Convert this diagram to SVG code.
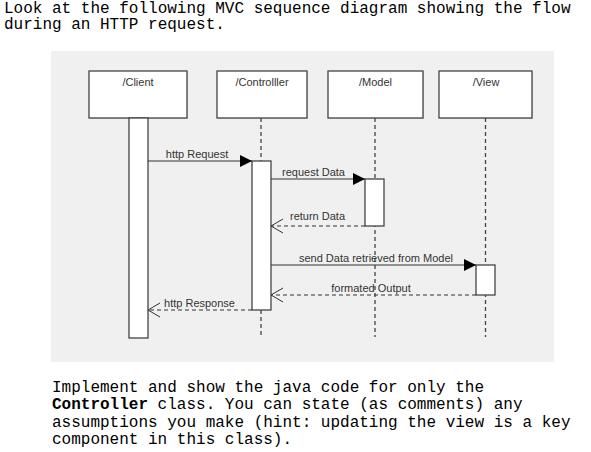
<svg xmlns="http://www.w3.org/2000/svg" width="591" height="452" viewBox="0 0 591 452">
  <defs>
    <marker id="filled" viewBox="0 0 12 12" refX="12" refY="6" markerWidth="12" markerHeight="12" markerUnits="userSpaceOnUse" orient="auto">
      <path d="M0,0 L12,6 L0,12 Z" fill="#000"/>
    </marker>
    <marker id="open" viewBox="0 0 14 16" refX="13" refY="8" markerWidth="14" markerHeight="16" markerUnits="userSpaceOnUse" orient="auto">
      <path d="M1,1 L13,8 L1,15" fill="none" stroke="#333" stroke-width="1"/>
    </marker>
  </defs>
  <style>
    .q { font-family: "Liberation Mono", "Courier New", monospace; font-size: 16px; fill: #000; }
    .bg { fill: #f0f0f0; }
    .head { fill: #fff; stroke: #444; stroke-width: 1.3; }
    .shadow { fill: #d4d4d4; }
    .act { fill: #fff; stroke: #444; stroke-width: 1.3; }
    .life { stroke: #444; stroke-width: 1.3; stroke-dasharray: 4 3; fill: none; }
    .msg { stroke: #333; stroke-width: 1; fill: none; }
    .ret { stroke: #333; stroke-width: 1; fill: none; stroke-dasharray: 4 3; }
    .lbl { font-family: "Liberation Sans", Arial, sans-serif; font-size: 11px; fill: #333; text-anchor: middle; }
  </style>

  <text class="q" x="4" y="12.5">Look at the following MVC sequence diagram showing the flow</text>
  <text class="q" x="4" y="29">during an HTTP request.</text>

  <rect class="bg" x="51" y="51" width="503" height="311"/>

  <g id="client">
    <rect class="shadow" x="90" y="72" width="98" height="47"/>
    <rect class="head" x="89" y="71" width="98" height="47"/>
    <text class="lbl" x="138" y="85.5">/Client</text>
    <rect class="act" x="129" y="118" width="19" height="220"/>
  </g>

  <g id="controller">
    <rect class="shadow" x="218" y="72" width="90" height="47"/>
    <rect class="head" x="217" y="71" width="90" height="47"/>
    <text class="lbl" x="262" y="85.5">/Controlller</text>
    <line class="life" x1="261" y1="118" x2="261" y2="161"/>
    <line class="life" x1="261" y1="310" x2="261" y2="337"/>
    <rect class="act" x="252" y="161" width="19" height="149"/>
  </g>

  <g id="model">
    <rect class="shadow" x="329" y="72" width="95" height="47"/>
    <rect class="head" x="328" y="71" width="95" height="47"/>
    <text class="lbl" x="375.5" y="85.5">/Model</text>
    <line class="life" x1="375" y1="118" x2="375" y2="337"/>
    <rect class="act" x="365" y="179" width="19" height="47"/>
  </g>

  <g id="view">
    <rect class="shadow" x="440" y="72" width="93" height="47"/>
    <rect class="head" x="439" y="71" width="93" height="47"/>
    <text class="lbl" x="486" y="85.5">/View</text>
    <line class="life" x1="485.5" y1="118" x2="485.5" y2="337"/>
    <rect class="act" x="476" y="265" width="19" height="30"/>
  </g>

  <g id="connectors">
    <line class="msg" x1="148" y1="161" x2="252" y2="161" marker-end="url(#filled)"/>
    <text class="lbl" x="197" y="158">http Request</text>

    <line class="msg" x1="271" y1="179" x2="365" y2="179" marker-end="url(#filled)"/>
    <text class="lbl" x="313.5" y="176">request Data</text>

    <line class="ret" x1="365" y1="226" x2="271" y2="226" marker-end="url(#open)"/>
    <text class="lbl" x="317.5" y="219.5">return Data</text>

    <line class="msg" x1="271" y1="265" x2="476" y2="265" marker-end="url(#filled)"/>
    <text class="lbl" x="376" y="262">send Data retrieved from Model</text>

    <line class="ret" x1="476" y1="295" x2="271" y2="295" marker-end="url(#open)"/>
    <text class="lbl" x="371" y="292">formated Output</text>

    <line class="ret" x1="252" y1="310" x2="148" y2="310" marker-end="url(#open)"/>
    <text class="lbl" x="199.5" y="307">http Response</text>
  </g>

  <text class="q" x="52" y="391.5">Implement and show the java code for only the</text>
  <text class="q" x="52" y="409.2"><tspan font-weight="bold">Controller</tspan> class. You can state (as comments) any</text>
  <text class="q" x="52" y="426.8">assumptions you make (hint: updating the view is a key</text>
  <text class="q" x="52" y="444.4">component in this class).</text>
</svg>
